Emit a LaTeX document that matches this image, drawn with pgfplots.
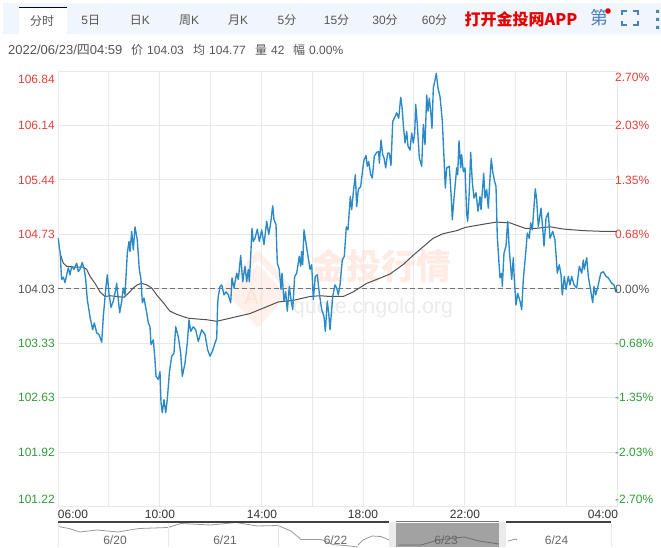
\documentclass[border=0pt]{standalone}
\usepackage{pgfplots}
\pgfplotsset{compat=1.18}
\usepackage{fontspec}
\setmainfont{Liberation Sans}
\newfontfamily\cjk{Noto Sans CJK SC}
\definecolor{gridc}{HTML}{E8E8E8}
\definecolor{upc}{HTML}{E2403A}
\definecolor{downc}{HTML}{2F9E36}
\definecolor{txt}{HTML}{555555}
\definecolor{pricec}{HTML}{2A8AC8}
\definecolor{avgc}{HTML}{555050}
\definecolor{barbg}{HTML}{F1F6FC}
\definecolor{iconc}{HTML}{4A80BC}
\newcommand\fs[1]{\fontsize{#1}{#1}\selectfont}
\begin{document}
\begin{tikzpicture}
\useasboundingbox (0pt,0pt) rectangle (661pt,547pt);
\fill[white] (0pt,0pt) rectangle (661pt,547pt);
\begin{scope}[shift={(0pt,547pt)},x=1pt,y=-1pt]
  % tab bar
  \fill[barbg] (3,3) rectangle (661,34);
  \fill[white] (18.5,7) rectangle (66.5,36);
  \fill[black!75!blue] (18.5,7) rectangle (66.5,8.5);
  % watermark
  \fill[red!50!orange!8] (258,250) -- (293,288) -- (258,328) -- (222,288) -- cycle;
  \draw[white,line width=3pt] (236,284) -- (258,262) -- (284,290);
  \node[text=red!40!orange!16,font=\fs{22}] at (254,297) {Ai};
  \node[text=red!40!orange!11,font=\cjk\bfseries\fs{35}] at (381,266) {金投行情};
  \node[text=black!8,font=\fs{21.5}] at (373,308) {quote.cngold.org};
\end{scope}
\begin{axis}[
  at={(58pt,40.5pt)},anchor=south west,
  scale only axis,width=559pt,height=435.5pt,
  xmin=0,xmax=559,ymin=101.22,ymax=106.84,
  axis line style={draw=none},
  xtick={0,50.8,101.6,152.5,203.3,254.1,304.9,355.7,406.5,457.4,508.2,559},
  ytick={101.22,101.92,102.63,103.33,104.03,104.73,105.44,106.14,106.84},
  xticklabels={},yticklabels={},
  major tick length=0pt,
  grid=major,grid style={gridc,line width=0.8pt},
  clip=false]
\addplot[black!55,dashed,line width=0.7pt,dash pattern=on 5pt off 3pt] coordinates {(0,104.03) (559,104.03)};
\addplot[avgc,line width=1pt] coordinates {
(2,104.49)(5.3,104.36)(8.7,104.32)(15.3,104.31)(25.3,104.31)(28.7,104.28)(32,104.19)(37,104.10)(42,103.99)(47,103.93)(52,103.94)(58.7,103.93)(66,103.92)(70.3,103.97)(75.3,104.04)(79.3,104.08)(83.7,104.10)(88.7,104.08)(93.7,104.04)(98.7,103.95)(105.3,103.85)(112,103.74)(118.7,103.70)(125.3,103.67)(130.3,103.65)(138.7,103.64)(148.7,103.63)(158.7,103.61)(172,103.65)(192,103.71)(205.3,103.78)(220.3,103.86)(235.3,103.88)(252,103.93)(262,103.94)(272,103.93)(285.3,103.93)(295.3,103.99)(308.7,104.10)(318.7,104.15)(332,104.22)(345,104.34)(355,104.46)(365,104.57)(375,104.68)(385,104.74)(398.7,104.78)(407,104.82)(415.3,104.84)(428.7,104.87)(438.7,104.89)(452,104.88)(467,104.81)(478.7,104.81)(492,104.83)(505.3,104.80)(525.3,104.78)(545.3,104.77)(559,104.77)};
\addplot[pricec,line width=1.35pt,line join=round] coordinates {
(0.3,104.68)(1.3,104.56)(2.3,104.49)(3,104.28)(3.7,104.15)(5.3,104.18)(7,104.11)(8.7,104.21)(10.3,104.30)(12,104.21)(13.7,104.32)(16,104.28)(18.7,104.36)(20.3,104.25)(22,104.28)(24.3,104.37)(26.3,104.28)(27.7,104.15)(29.3,103.89)(32,103.67)(34.7,103.50)(36.3,103.59)(38.7,103.46)(41,103.44)(43.7,103.34)(45.3,103.67)(48,104.06)(49.3,104.21)(51,103.97)(53,103.79)(55.3,103.87)(57.7,104.02)(58.7,104.10)(60.3,103.89)(61.7,103.72)(63.7,103.87)(65.3,104.04)(67,103.95)(69.3,104.49)(71,104.64)(72,104.51)(73.7,104.77)(75.3,104.53)(77,104.83)(79.3,104.66)(81.3,104.28)(83,104.15)(84.3,103.85)(86,103.91)(88.7,103.72)(90.3,103.59)(92,103.54)(93,103.31)(95.3,103.37)(97,103.11)(98,102.90)(100.3,102.86)(102,102.96)(103,102.56)(104.3,102.43)(106,102.60)(107.7,102.43)(109.3,102.60)(111.3,102.94)(113.7,103.16)(116,103.20)(117.7,103.54)(120.3,103.41)(122.7,103.20)(124.3,102.90)(127,103.07)(129.3,103.33)(131,103.63)(132.7,103.48)(135.3,103.54)(137.7,103.50)(140.3,103.35)(143.7,103.50)(147,103.44)(149.7,103.24)(152,103.16)(154.3,103.22)(157,103.33)(158.7,103.39)(159.7,103.85)(160.3,103.93)(162,104.06)(163.7,104.08)(166,103.95)(168,103.99)(170.3,103.95)(172.7,103.85)(174,104.17)(176,104.04)(178.7,104.23)(180.3,104.15)(182.7,104.46)(184.7,104.12)(187,104.32)(188.7,104.12)(190.3,104.28)(191.3,104.12)(192.7,104.45)(194,104.81)(195.3,104.64)(197,104.68)(199.3,104.80)(201.3,104.64)(203.7,104.79)(206,104.60)(208.7,104.90)(210.7,104.73)(212.7,104.88)(214.7,105.10)(216,104.92)(218,104.86)(219.3,104.36)(221.3,104.28)(223,104.02)(224,104.23)(226,103.87)(227.7,103.99)(229.3,103.74)(231.3,104.06)(233,103.89)(234.7,103.76)(236.7,104.19)(238.7,104.23)(241.3,104.45)(242.7,104.32)(243.7,104.51)(244.7,104.34)(246,104.79)(248,104.62)(250,104.45)(252,104.28)(253.7,104.34)(255.3,103.89)(257.3,104.19)(259.3,104.21)(261.3,103.97)(263.7,103.76)(266,103.67)(267.3,103.48)(269.3,103.87)(270.7,103.72)(272,103.50)(274.7,103.93)(277,104.08)(278.7,104.04)(280.3,103.95)(282,104.08)(284.3,104.40)(286.3,104.45)(288.3,104.83)(290,104.79)(292.3,105.22)(293.7,105.05)(295.3,105.27)(297.3,105.50)(298.7,105.09)(300.3,105.31)(302.7,105.35)(304.7,105.57)(305.3,105.63)(306,105.69)(308,105.75)(309.3,105.61)(310.7,105.67)(312.7,105.50)(314.3,105.46)(316.3,105.74)(318.7,105.79)(320.7,105.80)(321.3,105.65)(323,105.95)(324.7,105.76)(326,105.72)(327.7,105.59)(329.7,105.78)(331.3,105.78)(333,105.62)(334.7,106.19)(337,106.25)(338.7,106.30)(340.7,106.23)(342.7,106.50)(344,106.38)(345.3,106.15)(347,105.91)(348.7,106.06)(350,105.87)(352,105.82)(353.7,106.04)(355.3,105.91)(356.7,106.04)(357.7,106.41)(359.3,106.15)(361.3,105.72)(363.7,105.61)(365.3,106.15)(367,105.89)(368.7,106.53)(370,106.32)(371.3,106.49)(372.7,106.32)(374,106.10)(375.3,106.62)(376.7,106.70)(378.3,106.81)(380,106.62)(382,106.51)(383,106.38)(384.3,106.19)(386,105.72)(387.3,105.33)(388.7,105.59)(391.3,105.61)(393.3,105.20)(394.3,104.92)(396,105.20)(398.7,105.59)(399.7,105.50)(401,105.94)(402.7,105.59)(403.7,105.76)(405.3,105.54)(407,105.59)(408.7,104.99)(409.7,104.90)(411.3,105.29)(412.7,105.79)(414.3,105.41)(416,105.20)(418,105.27)(420,105.03)(422,105.22)(423,105.05)(425.7,105.52)(427,105.20)(428.7,105.31)(430.3,105.07)(432,105.46)(433.3,105.71)(434.7,105.54)(436.7,105.41)(438,105.35)(439.3,104.70)(441,104.36)(442,104.17)(443.7,104.23)(444.3,104.06)(446,104.49)(448,104.58)(449.7,104.90)(451.3,104.53)(453.7,104.15)(455.3,104.43)(456.3,104.15)(458,103.82)(459.7,103.97)(462,103.87)(463.7,103.76)(465.3,104.15)(467.7,104.49)(469.3,104.75)(471.3,104.68)(472.7,104.88)(474.3,104.79)(475.7,105.03)(477.3,105.32)(478.7,105.18)(480.3,104.83)(483,105.07)(484.7,104.81)(486,104.58)(488,104.94)(490.3,105.01)(492,104.68)(494.7,104.77)(497,104.66)(499.3,104.23)(501.3,104.34)(503,104.21)(504.3,103.95)(506.3,104.19)(508,104.02)(510.3,104.19)(512,104.08)(513.7,104.19)(516,104.08)(518.7,104.04)(521.3,104.32)(523.7,104.23)(525.3,104.40)(526.3,104.28)(528.7,104.43)(530.3,104.19)(532,104.06)(534.7,103.85)(536,104.06)(537.7,103.95)(540.3,104.08)(542.7,104.23)(545.3,104.25)(548,104.19)(550.3,104.17)(553.7,104.10)(556,104.08)(557.7,103.99)(559,104.02)};
\end{axis}
% overview strip
\begin{axis}[
  at={(58pt,0pt)},anchor=south west,
  scale only axis,width=553pt,height=26pt,
  xmin=0,xmax=553,ymin=0,ymax=26,
  axis line style={draw=none},ticks=none,clip=true]
\addplot[black!40,line width=0.8pt] coordinates {(0,20.5)(11,18.5)(22,15)(39,17)(60,15)(81,18.5)(110,19.5)(123,23.5)(153,22)(178,24.5)(199,21)(220,21.5)(233,16)(243,7.5)(263,7.5)(275,2.5)(292,1)(300,0)};
\addplot[black!40,line width=0.8pt] coordinates {(300,2)(305,7)(314,11)(323,10.5)(331,7)};
\addplot[black!40,line width=0.8pt] coordinates {(450,6)(458,8)(459,7)};
\end{axis}
\begin{scope}[shift={(0pt,547pt)},x=1pt,y=-1pt]
  \draw[gridc,line width=0.8pt] (58,523)--(58,547) (168.6,523)--(168.6,547) (278.5,523)--(278.5,547) (611,523)--(611,547);
  \fill[black!38,opacity=0.95] (396,523) rectangle (499,547);
  \draw[black!58,line width=0.8pt] plot coordinates {(399,545)(421,545)(438,540)(464,537)(479,541)(499,544)};
  \fill[black!8] (389,522) rectangle (396,547);
  \fill[black!8] (499,522) rectangle (506,547);
  \fill[black!75] (58,520.5) rectangle (389,523);
  \fill[black!55] (396,520.5) rectangle (499,522);
  \fill[black!75] (506,520.5) rectangle (611,523);
  \foreach \x/\t in {115/6\slash20,225/6\slash21,335.5/6\slash22,446/6\slash23,556.5/6\slash24}
    \node[text=black!60,font=\fs{12}] at (\x,540) {\t};
  % x labels
  \foreach \x/\t in {73/06:00,160/10:00,262/14:00,363/18:00,465/22:00,603/04:00}
    \node[text=black!80,font=\fs{12}] at (\x,514) {\t};
  % y labels
  \foreach \y/\t/\c in {79/106.84/upc,125/106.14/upc,180/105.44/upc,234/104.73/upc,289/104.03/txt,343/103.33/downc,397/102.63/downc,452/101.92/downc,499/101.22/downc}
    \node[text=\c,font=\fs{12},anchor=east,inner sep=0pt] at (55,\y) {\t};
  \foreach \y/\t/\c in {77/2.70\%/upc,125/2.03\%/upc,180/1.35\%/upc,234/0.68\%/upc,289/0.00\%/txt,343/-0.68\%/downc,397/-1.35\%/downc,452/-2.03\%/downc,499/-2.70\%/downc}
    \node[text=\c,font=\fs{12},anchor=west,inner sep=0pt] at (615,\y) {\t};
  % tabs
  \node[text=txt,font=\fs{12}] at (42,21) {{\cjk 分时}};
  \node[text=txt,font=\fs{12}] at (90.7,20) {5{\cjk 日}};
  \node[text=txt,font=\fs{12}] at (140,20) {{\cjk 日}K};
  \node[text=txt,font=\fs{12}] at (189,20) {{\cjk 周}K};
  \node[text=txt,font=\fs{12}] at (238,20) {{\cjk 月}K};
  \node[text=txt,font=\fs{12}] at (287,20) {5{\cjk 分}};
  \node[text=txt,font=\fs{12}] at (336.5,20) {15{\cjk 分}};
  \node[text=txt,font=\fs{12}] at (385,20) {30{\cjk 分}};
  \node[text=txt,font=\fs{12}] at (434.5,20) {60{\cjk 分}};
  \node[text=red!90!black,font=\cjk\bfseries\fs{16}] at (521,19) {打开金投网APP};
  \node[text=iconc,font=\cjk\fs{18}] at (599,18) {第};
  \fill[red!90!black] (608,11) circle (2.8);
  \draw[iconc,line width=1.4pt] (622,15)--(622,11)--(627,11) (633,11)--(638,11)--(638,15) (638,21)--(638,25)--(633,25) (627,25)--(622,25)--(622,21);
  \fill[iconc] (656,10) rectangle (659,13) (656,18) rectangle (659,21) (656,26) rectangle (659,29);
  % info line
  \node[text=txt,font=\fs{13},anchor=west,inner sep=0pt] at (8,50) {2022/06/23/{\cjk 四}04:59};
  \node[text=txt,font=\fs{12},anchor=west,inner sep=0pt] at (131,50) {{\cjk 价}};
  \node[text=txt,font=\fs{12},anchor=west,inner sep=0pt] at (147,50) {104.03};
  \node[text=txt,font=\fs{12},anchor=west,inner sep=0pt] at (193,50) {{\cjk 均}};
  \node[text=txt,font=\fs{12},anchor=west,inner sep=0pt] at (209,50) {104.77};
  \node[text=txt,font=\fs{12},anchor=west,inner sep=0pt] at (255,50) {{\cjk 量}};
  \node[text=txt,font=\fs{12},anchor=west,inner sep=0pt] at (271,50) {42};
  \node[text=txt,font=\fs{12},anchor=west,inner sep=0pt] at (293,50) {{\cjk 幅}};
  \node[text=txt,font=\fs{12},anchor=west,inner sep=0pt] at (309,50) {0.00\%};
\end{scope}
\end{tikzpicture}
\end{document}
